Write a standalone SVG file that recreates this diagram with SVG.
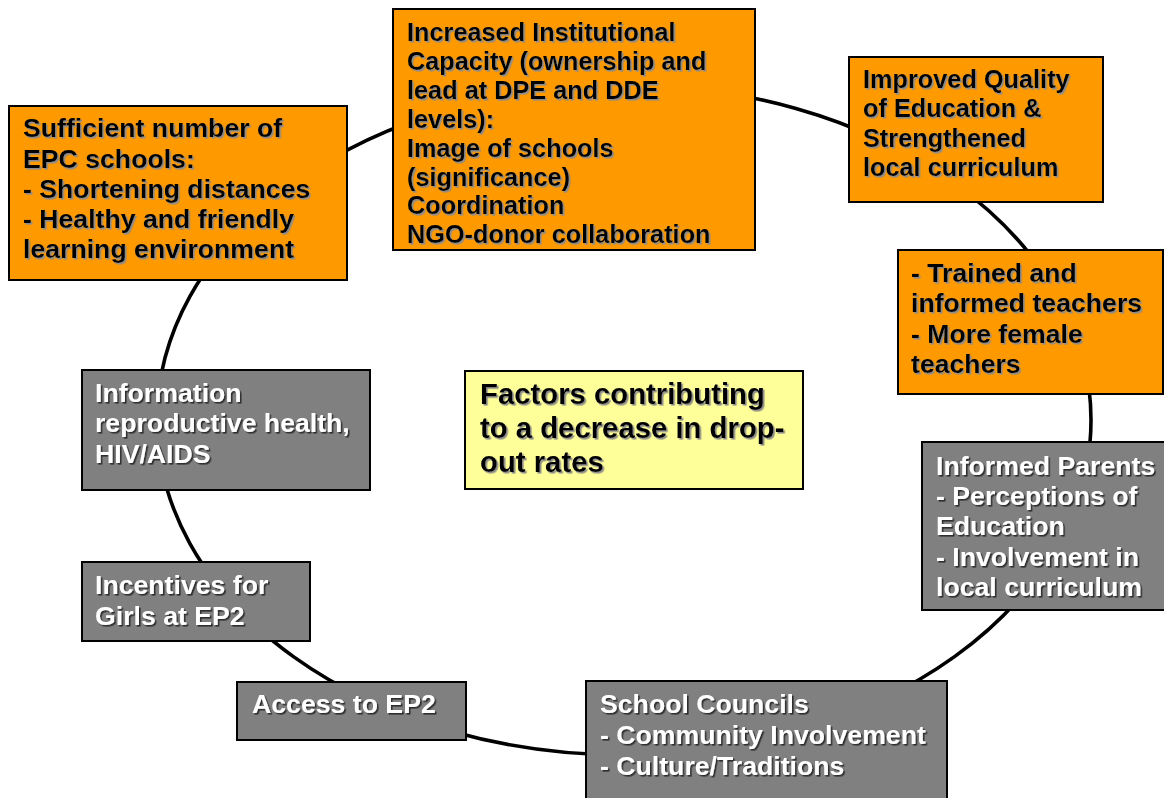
<svg xmlns="http://www.w3.org/2000/svg" width="1164" height="798" viewBox="0 0 1164 798">
<defs>
<filter id="shDark" x="-5%" y="-5%" width="110%" height="120%"><feDropShadow dx="1.6" dy="1.6" stdDeviation="0.4" flood-color="#8c8c8c" flood-opacity="1"/></filter>
<filter id="shLight" x="-5%" y="-5%" width="110%" height="120%"><feDropShadow dx="1.6" dy="1.6" stdDeviation="0.4" flood-color="#2e2e2e" flood-opacity="1"/></filter>
</defs>
<style>
.orange{fill:#FF9900;stroke:#000;stroke-width:2}
.gray{fill:#808080;stroke:#000;stroke-width:2}
.yellow{fill:#FFFF99;stroke:#000;stroke-width:2}
text{font-family:"Liberation Sans",Arial,sans-serif;font-weight:bold}
.tb{fill:#000;filter:url(#shDark)}
.tw{fill:#fff;filter:url(#shLight)}
.s20{font-size:26.67px}
.s19{font-size:25.3px}
.s22{font-size:29.3px}
.ring{fill:none;stroke:#000;stroke-width:3.6}
</style>
<rect width="1164" height="798" fill="#fff"/>
<g id="connectors">
<ellipse class="ring" cx="624" cy="420" rx="467" ry="335"/>
</g>
<g id="node-sufficient">
<rect class="orange" x="9" y="106" width="338" height="174"/>
<text class="tb s20"><tspan x="23" y="137">Sufficient number of</tspan><tspan x="23" y="167.5">EPC schools:</tspan><tspan x="23" y="198">- Shortening distances</tspan><tspan x="23" y="228">- Healthy and friendly</tspan><tspan x="23" y="258">learning environment</tspan></text>
</g>
<g id="node-institutional">
<rect class="orange" x="393" y="9" width="362" height="241"/>
<text class="tb s19"><tspan x="407" y="41">Increased Institutional</tspan><tspan x="407" y="70">Capacity (ownership and</tspan><tspan x="407" y="99">lead at DPE and DDE</tspan><tspan x="407" y="128">levels):</tspan><tspan x="407" y="157">Image of schools</tspan><tspan x="407" y="186">(significance)</tspan><tspan x="407" y="214">Coordination</tspan><tspan x="407" y="243">NGO-donor collaboration</tspan></text>
</g>
<g id="node-quality">
<rect class="orange" x="849" y="57" width="254" height="145"/>
<text class="tb s19"><tspan x="863" y="88">Improved Quality</tspan><tspan x="863" y="117">of Education &amp;</tspan><tspan x="863" y="147">Strengthened</tspan><tspan x="863" y="176">local curriculum</tspan></text>
</g>
<g id="node-teachers">
<rect class="orange" x="898" y="250" width="265" height="144"/>
<text class="tb s20"><tspan x="911" y="282">- Trained and</tspan><tspan x="911" y="312">informed teachers</tspan><tspan x="911" y="343">- More female</tspan><tspan x="911" y="373">teachers</tspan></text>
</g>
<g id="node-center">
<rect class="yellow" x="465" y="371" width="338" height="118"/>
<text class="tb s22"><tspan x="480" y="404">Factors contributing</tspan><tspan x="480" y="438">to a decrease in drop-</tspan><tspan x="480" y="472">out rates</tspan></text>
</g>
<g id="node-information">
<rect class="gray" x="82" y="370" width="288" height="120"/>
<text class="tw s20"><tspan x="95" y="402">Information</tspan><tspan x="95" y="432">reproductive health,</tspan><tspan x="95" y="463">HIV/AIDS</tspan></text>
</g>
<g id="node-incentives">
<rect class="gray" x="82" y="562" width="228" height="79"/>
<text class="tw s20"><tspan x="95" y="594">Incentives for</tspan><tspan x="95" y="625">Girls at EP2</tspan></text>
</g>
<g id="node-access">
<rect class="gray" x="237" y="682" width="229" height="58"/>
<text class="tw s20"><tspan x="252" y="713">Access to EP2</tspan></text>
</g>
<g id="node-councils">
<rect class="gray" x="586" y="681" width="361" height="130"/>
<text class="tw s20"><tspan x="600" y="713">School Councils</tspan><tspan x="600" y="744">- Community Involvement</tspan><tspan x="600" y="775">- Culture/Traditions</tspan></text>
</g>
<g id="node-parents">
<rect class="gray" x="922" y="442" width="250" height="168"/>
<text class="tw s20"><tspan x="936" y="475">Informed Parents</tspan><tspan x="936" y="505">- Perceptions of</tspan><tspan x="936" y="535">Education</tspan><tspan x="936" y="566">- Involvement in</tspan><tspan x="936" y="596">local curriculum</tspan></text>
</g>
</svg>
